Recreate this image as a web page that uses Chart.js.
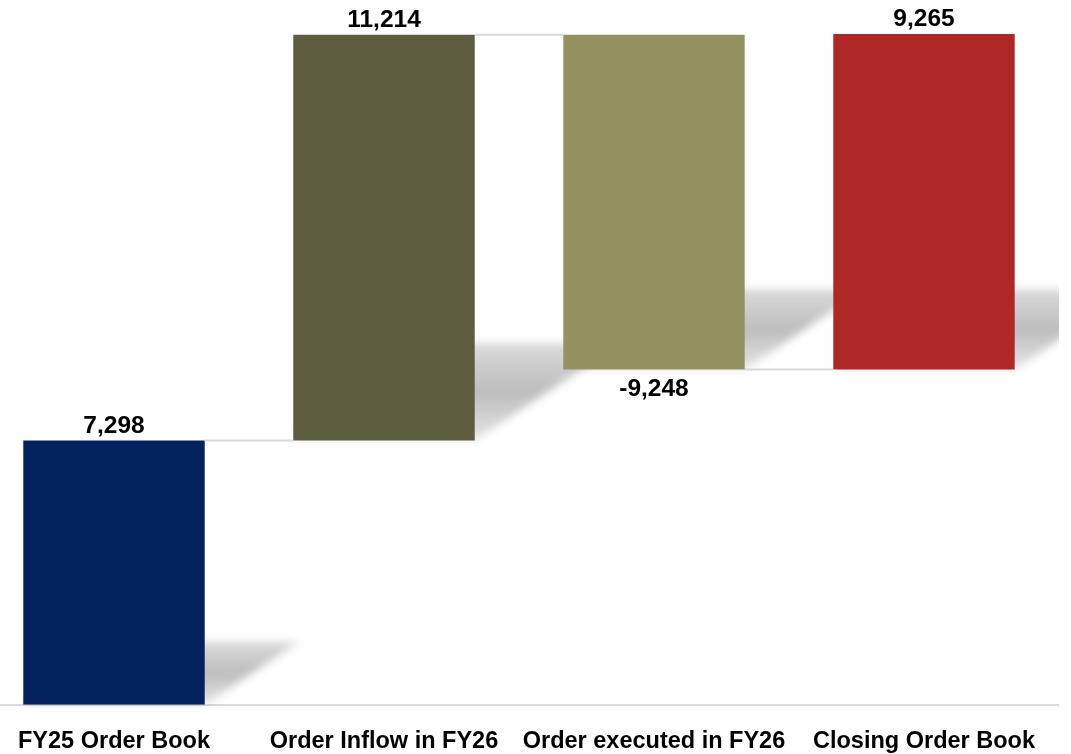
<!DOCTYPE html>
<html>
<head>
<meta charset="utf-8">
<script src="https://cdn.jsdelivr.net/npm/chart.js@4.4.1/dist/chart.umd.min.js"></script>
<style>
  html, body { margin: 0; padding: 0; background: #fff; overflow: hidden; }
  #wrap { position: absolute; left: -21px; top: 0; width: 1080px; height: 773px; }
</style>
</head>
<body>
<div id="wrap"><canvas id="waterfallChart"></canvas></div>
<script>
// =======================================================
// DADOS
// =======================================================
const categories = ['FY25 Order Book', 'Order Inflow in FY26', 'Order executed in FY26', 'Closing Order Book'];
const values = [7298, 11214, -9248, 9265];
const valueLabels = ['7,298', '11,214', '-9,248', '9,265'];
const barColors = ['#03215C', '#5E5C3E', '#959262', '#AE2925'];

// faixas flutuantes (cascata)
function buildRanges(vals) {
    const ranges = [];
    let running = 0;
    vals.forEach((v, i) => {
        if (i === 0) { ranges.push([0, v]); running = v; return; }
        ranges.push([running, running + v]);
        if (i < vals.length - 1) running += v;
    });
    return ranges;
}
const ranges = buildRanges(values);

// sombra diagonal atrás das barras
const shadowPlugin = {
    id: 'barShadow',
    beforeDatasetsDraw(chart) {
        const ctx = chart.ctx;
        const meta = chart.getDatasetMeta(0);
        ctx.save();
        meta.data.forEach(bar => {
            const bottom = Math.max(bar.y, bar.base);
            const top = Math.min(bar.y, bar.base);
            const h = bottom - top;
            const dx = h * 0.36, dy = h * 0.24;
            const left = bar.x - bar.width / 2, right = bar.x + bar.width / 2;
            const g = ctx.createLinearGradient(0, bottom, 0, bottom - dy);
            g.addColorStop(0, 'rgba(0,0,0,0.10)');
            g.addColorStop(0.5, 'rgba(0,0,0,0.26)');
            g.addColorStop(1, 'rgba(0,0,0,0.14)');
            ctx.filter = 'blur(4px)';
            ctx.fillStyle = g;
            ctx.beginPath();
            ctx.moveTo(left, bottom);
            ctx.lineTo(right, bottom);
            ctx.lineTo(right + dx, bottom - dy);
            ctx.lineTo(left + dx, bottom - dy);
            ctx.closePath();
            ctx.fill();
        });
        ctx.restore();
    }
};

// linhas de ligação + rótulos de valor
const connectorsAndLabels = {
    id: 'connectorsAndLabels',
    afterDatasetsDraw(chart) {
        const ctx = chart.ctx;
        const meta = chart.getDatasetMeta(0);
        const yScale = chart.scales.y;
        ctx.save();
        ctx.strokeStyle = '#d9d9d9';
        ctx.lineWidth = 2;
        for (let i = 0; i < meta.data.length - 1; i++) {
            const a = meta.data[i], b = meta.data[i + 1];
            const level = yScale.getPixelForValue(ranges[i][1]);
            ctx.beginPath();
            ctx.moveTo(a.x + a.width / 2, level);
            ctx.lineTo(b.x - b.width / 2, level);
            ctx.stroke();
        }
        ctx.fillStyle = '#000';
        ctx.font = 'bold 24.5px "Liberation Sans", Arial, sans-serif';
        ctx.textAlign = 'center';
        ctx.textBaseline = 'alphabetic';
        meta.data.forEach((bar, i) => {
            if (values[i] < 0) {
                ctx.fillText(valueLabels[i], bar.x, Math.max(bar.y, bar.base) + 27);
            } else {
                ctx.fillText(valueLabels[i], bar.x, Math.min(bar.y, bar.base) - 8);
            }
        });
        ctx.restore();
    }
};

new Chart(document.getElementById('waterfallChart'), {
    type: 'bar',
    data: {
        labels: categories,
        datasets: [{
            data: ranges,
            backgroundColor: barColors,
            borderWidth: 0,
            categoryPercentage: 1,
            barPercentage: 0.672
        }]
    },
    options: {
        responsive: true,
        maintainAspectRatio: false,
        animation: false,
        layout: { padding: { top: 17, bottom: 2, left: 0, right: 0 } },
        plugins: { legend: { display: false }, tooltip: { enabled: false } },
        scales: {
            x: {
                grid: { display: false },
                border: { display: true, color: '#d9d9d9', width: 2 },
                ticks: {
                    color: '#000',
                    padding: 15,
                    maxRotation: 0,
                    autoSkip: false,
                    font: { family: '"Liberation Sans", Arial, sans-serif', weight: 'bold', size: 23.5 }
                }
            },
            y: {
                display: false,
                min: 0,
                max: 19000
            }
        }
    },
    plugins: [shadowPlugin, connectorsAndLabels]
});
</script>
</body>
</html>
